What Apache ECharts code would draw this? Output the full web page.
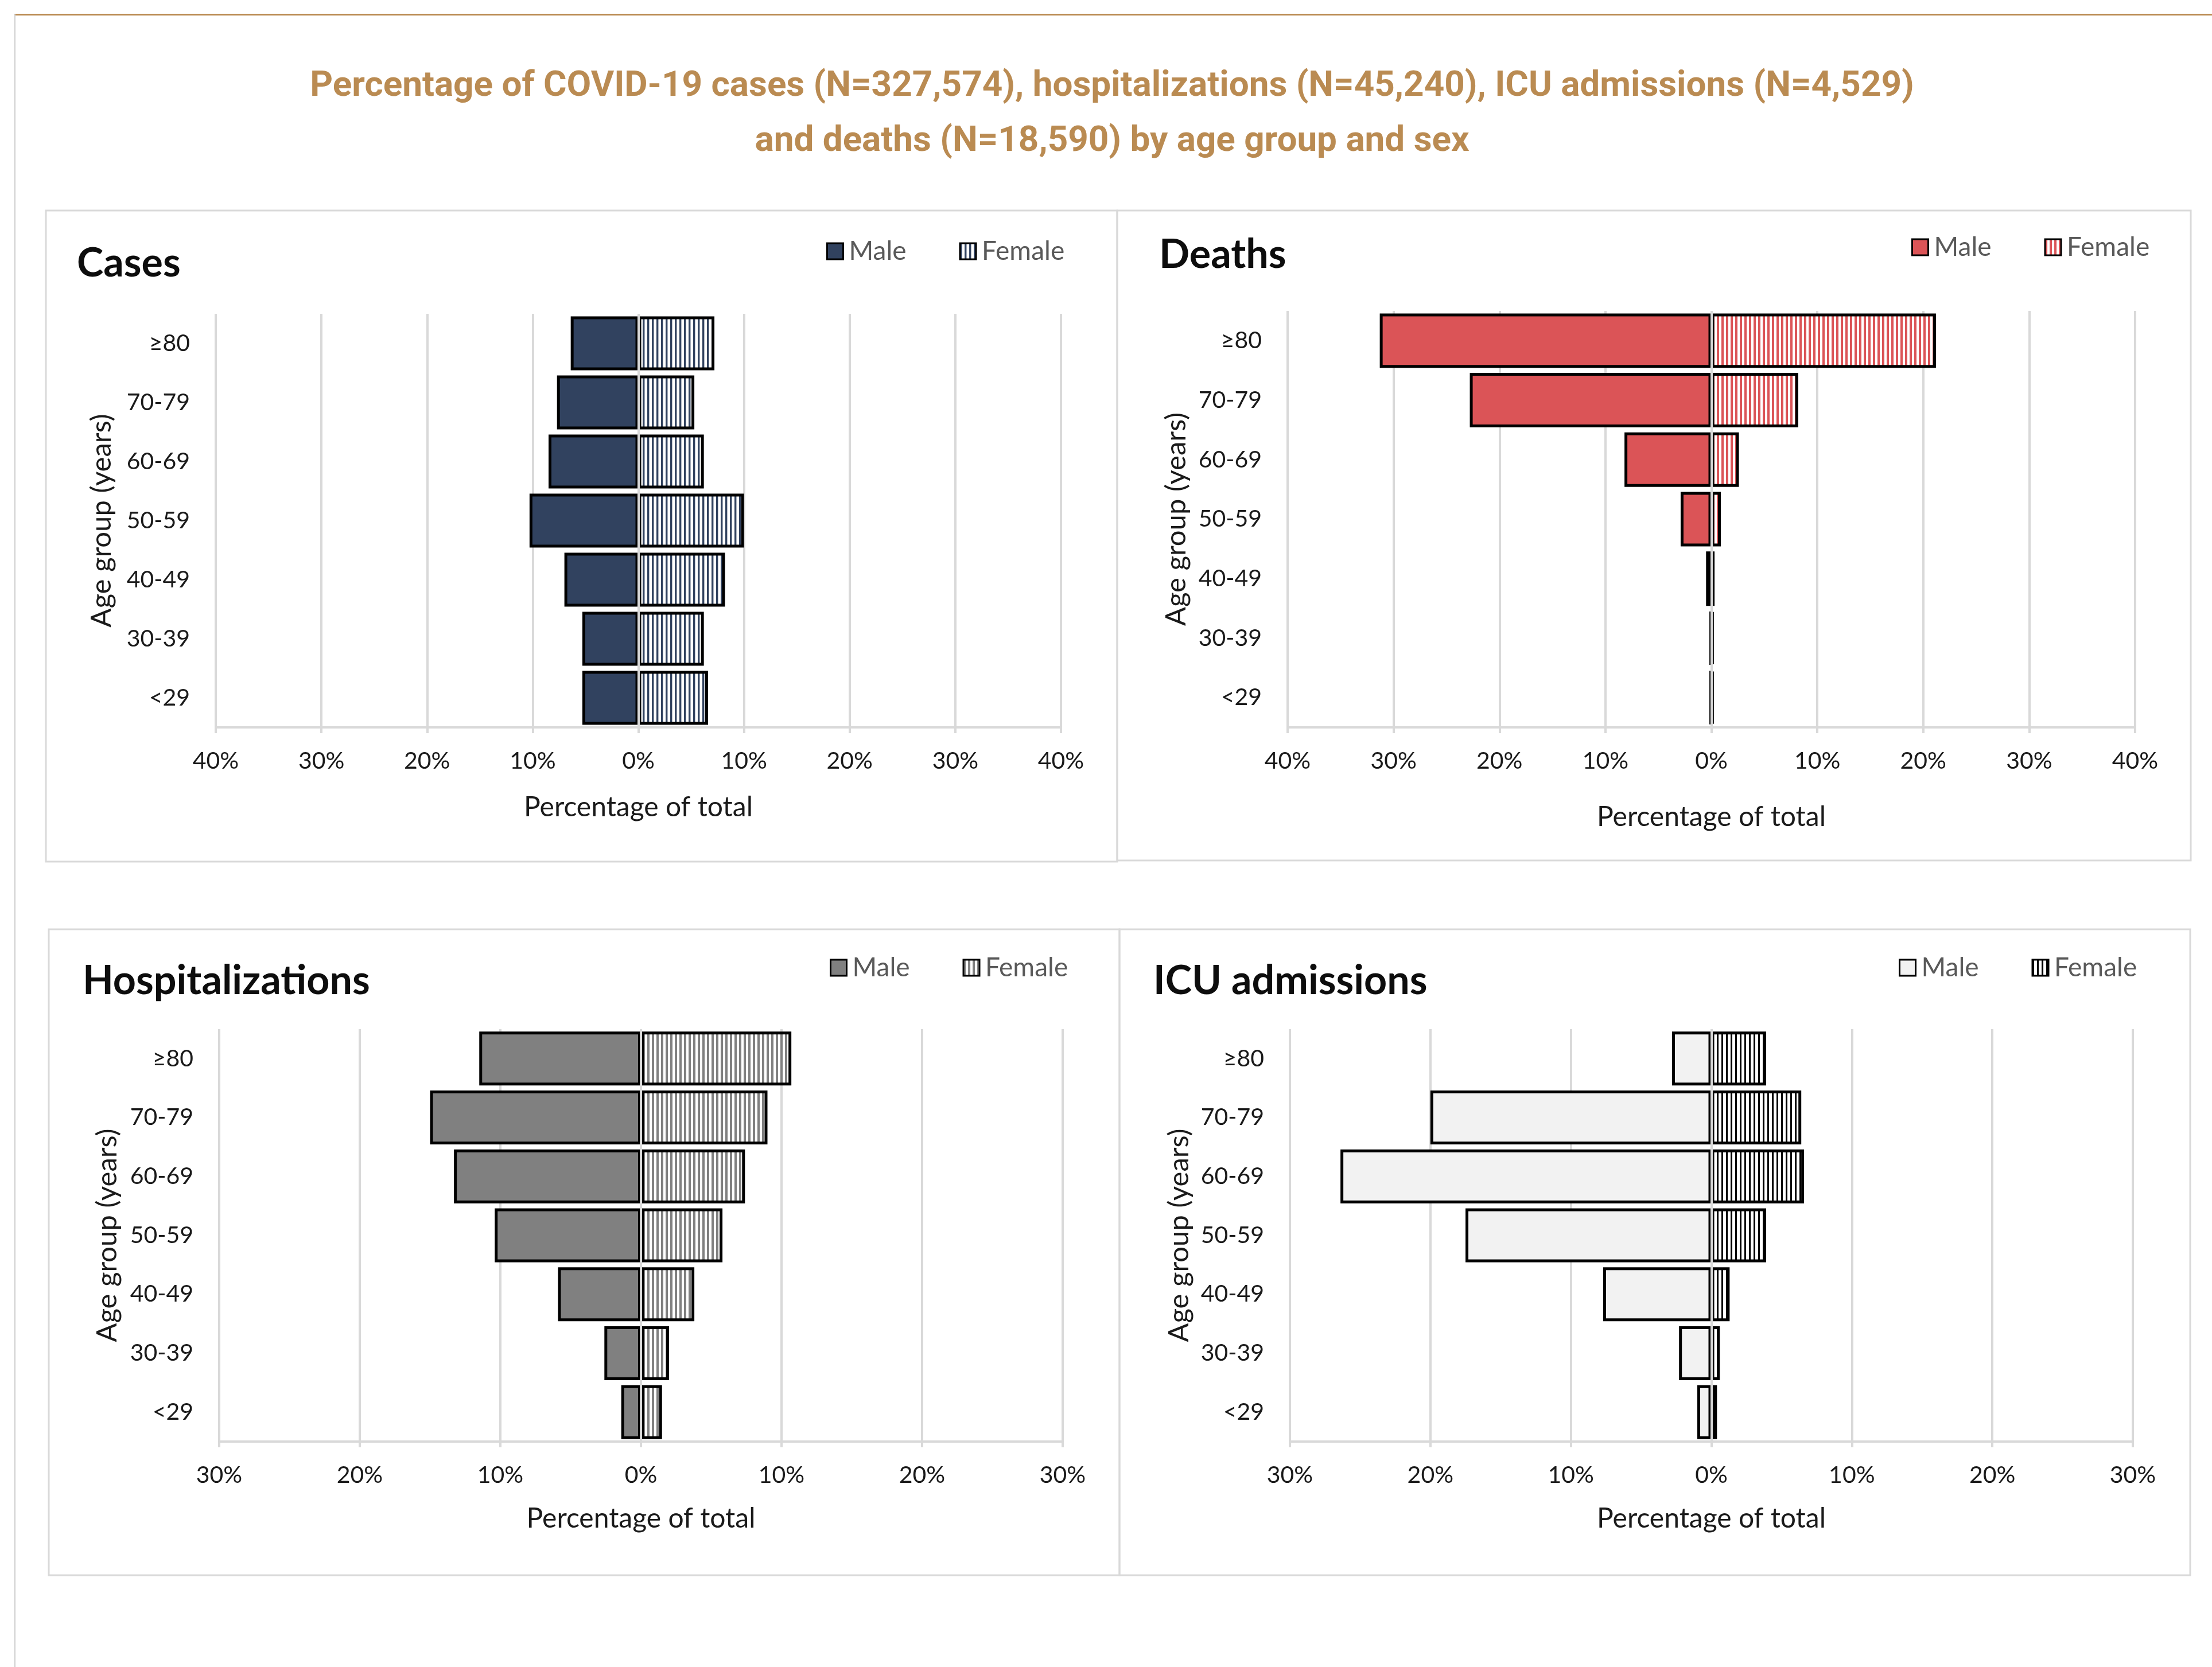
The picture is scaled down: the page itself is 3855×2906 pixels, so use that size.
<!DOCTYPE html>
<html>
<head>
<meta charset="utf-8">
<title>COVID-19 by age group and sex</title>
<script src="https://cdn.jsdelivr.net/npm/echarts@6/dist/echarts.min.js"></script>
<style>
  html, body { margin: 0; padding: 0; background: #fff; }
  #chart { width: 3855px; height: 2906px; }
</style>
</head>
<body>
<div id="chart"></div>
<script>
// age groups, bottom to top
const ageGroups = ['<29', '30-39', '40-49', '50-59', '60-69', '70-79', '≥80']

// percentage of total
const casesMale = [5.3, 5.3, 7.0, 10.3, 8.5, 7.7, 6.4]
const casesFemale = [6.6, 6.2, 8.2, 10.0, 6.2, 5.3, 7.2]
const deathsMale = [0.1, 0.1, 0.5, 2.9, 8.2, 22.8, 31.3]
const deathsFemale = [0.2, 0.2, 0.3, 0.9, 2.6, 8.2, 21.2]
const hospMale = [1.4, 2.6, 5.9, 10.4, 13.3, 15.0, 11.5]
const hospFemale = [1.5, 2.0, 3.8, 5.8, 7.4, 9.0, 10.7]
const icuMale = [1.0, 2.3, 7.7, 17.5, 26.4, 20.0, 2.8]
const icuFemale = [0.4, 0.6, 1.3, 3.9, 6.6, 6.4, 3.9]

const mainTitle = 'Percentage of COVID-19 cases (N=327,574), hospitalizations (N=45,240), ICU admissions (N=4,529)\nand deaths (N=18,590) by age group and sex'
const xName = 'Percentage of total'
const yName = 'Age group (years)'

const FONT = 'Lato'
const GRID_GREY = '#d9d9d9'

// vertical stripe fill for the female bars
function stripes(color, w) {
  const c = document.createElement('canvas')
  c.width = 8
  c.height = 8
  const ctx = c.getContext('2d')
  ctx.fillStyle = '#fff'
  ctx.fillRect(0, 0, 8, 8)
  ctx.fillStyle = color
  ctx.fillRect(0, 0, w, 8)
  return { image: c, repeat: 'repeat' }
}

const panels = [
  {
    key: 'cases', title: 'Cases', male: casesMale, female: casesFemale,
    maleFill: '#31425F', stripeColor: '#31425F', stripeW: 3.4, max: 40,
    grid: { left: 376, top: 547, width: 1473, height: 721 },
    titlePos: [134, 424], legendPos: [1440, 415], xNameGap: 116, yNameGap: 174,
    box: [80, 367, 1867, 1135],
  },
  {
    key: 'deaths', title: 'Deaths', male: deathsMale, female: deathsFemale,
    maleFill: '#DB5457', stripeColor: '#DB5457', stripeW: 4, max: 40,
    grid: { left: 2244, top: 542, width: 1477, height: 726 },
    titlePos: [2020, 409], legendPos: [3331, 408], xNameGap: 133, yNameGap: 169,
    box: [1947, 367, 1871, 1133],
  },
  {
    key: 'hosp', title: 'Hospitalizations', male: hospMale, female: hospFemale,
    maleFill: '#808080', stripeColor: '#808080', stripeW: 4, max: 30,
    grid: { left: 382, top: 1794, width: 1470, height: 719 },
    titlePos: [144, 1675], legendPos: [1446, 1664], xNameGap: 111, yNameGap: 170,
    box: [85, 1620, 1866, 1126],
  },
  {
    key: 'icu', title: 'ICU admissions', male: icuMale, female: icuFemale,
    maleFill: '#F2F2F2', stripeColor: '#000000', stripeW: 3, max: 30,
    grid: { left: 2248, top: 1794, width: 1469, height: 719 },
    titlePos: [2010, 1675], legendPos: [3309, 1664], xNameGap: 111, yNameGap: 168,
    box: [1951, 1620, 1866, 1126],
  },
]

const chart = echarts.init(document.getElementById('chart'), null, { renderer: 'canvas' })

const series = []
panels.forEach((p, i) => {
  series.push({
    name: p.key + ':Male',
    type: 'bar',
    xAxisIndex: i,
    yAxisIndex: i,
    data: p.male.map(v => -v),
    barGap: '-100%',
    barCategoryGap: '8.5%',
    itemStyle: { color: p.maleFill, borderColor: '#000', borderWidth: 5 },
    emphasis: { disabled: true },
  })
  series.push({
    name: p.key + ':Female',
    type: 'bar',
    xAxisIndex: i,
    yAxisIndex: i,
    data: p.female,
    barGap: '-100%',
    barCategoryGap: '8.5%',
    itemStyle: { color: stripes(p.stripeColor, p.stripeW), borderColor: '#000', borderWidth: 5 },
    emphasis: { disabled: true },
    // the 0% gridline shows on top of the bars
    markLine: {
      silent: true,
      symbol: ['none', 'none'],
      label: { show: false },
      lineStyle: { color: GRID_GREY, width: 4, type: 'solid' },
      data: [{ xAxis: 0 }],
    },
  })
})

const graphic = [
  { type: 'line', shape: { x1: 25, y1: 25.5, x2: 3855, y2: 25.5 }, style: { stroke: '#BA8B52', lineWidth: 3 }, z: -1 },
  { type: 'line', shape: { x1: 26, y1: 25, x2: 26, y2: 2906 }, style: { stroke: '#cfcfcf', lineWidth: 2 }, z: -1 },
  ...panels.map(p => ({
    type: 'rect',
    shape: { x: p.box[0], y: p.box[1], width: p.box[2], height: p.box[3] },
    style: { fill: null, stroke: GRID_GREY, lineWidth: 3 },
    z: -1,
  })),
]

chart.setOption({
  animation: false,
  backgroundColor: '#fff',
  textStyle: { fontFamily: FONT },
  title: [
    {
      text: mainTitle,
      left: 1938,
      top: 103,
      textAlign: 'center',
      padding: 0,
      textStyle: { fontFamily: 'Roboto', fontWeight: 'bold', fontSize: 62, lineHeight: 96, color: '#BA8B52' },
    },
    ...panels.map(p => ({
      text: p.title,
      left: p.titlePos[0],
      top: p.titlePos[1],
      padding: 0,
      textStyle: { fontFamily: FONT, fontWeight: 'bold', fontSize: 70, lineHeight: 70, color: '#0d0d0d' },
    })),
  ],
  legend: panels.map(p => ({
    data: [p.key + ':Male', p.key + ':Female'],
    left: p.legendPos[0],
    top: p.legendPos[1],
    padding: 0,
    orient: 'horizontal',
    icon: 'rect',
    itemWidth: 28,
    itemHeight: 28,
    itemGap: 92,
    selectedMode: false,
    itemStyle: { borderColor: '#000', borderWidth: 3 },
    formatter: n => n.split(':')[1],
    textStyle: { fontFamily: FONT, fontSize: 46, lineHeight: 46, color: '#595959', padding: [0, 0, 0, 5] },
  })),
  grid: panels.map(p => ({ ...p.grid, containLabel: false })),
  xAxis: panels.map((p, i) => ({
    type: 'value',
    gridIndex: i,
    min: -p.max,
    max: p.max,
    interval: 10,
    name: xName,
    nameLocation: 'middle',
    nameGap: p.xNameGap,
    nameTextStyle: { fontFamily: FONT, fontSize: 48, color: '#1a1a1a' },
    axisLine: { show: true, lineStyle: { color: GRID_GREY, width: 4 } },
    axisTick: { show: true, length: 10, lineStyle: { color: GRID_GREY, width: 4 } },
    axisLabel: { formatter: v => Math.abs(v) + '%', margin: 38, fontFamily: FONT, fontSize: 41, color: '#1a1a1a' },
    splitLine: { show: true, lineStyle: { color: GRID_GREY, width: 4 } },
  })),
  yAxis: panels.map((p, i) => ({
    type: 'category',
    gridIndex: i,
    data: ageGroups,
    name: yName,
    nameLocation: 'middle',
    nameGap: p.yNameGap,
    nameTextStyle: { fontFamily: FONT, fontSize: 49, color: '#1a1a1a' },
    axisLine: { show: false, onZero: false },
    axisTick: { show: false },
    axisLabel: { margin: 45, fontFamily: FONT, fontSize: 41, color: '#1a1a1a' },
    splitLine: { show: false },
  })),
  graphic,
  series,
})
</script>
</body>
</html>
